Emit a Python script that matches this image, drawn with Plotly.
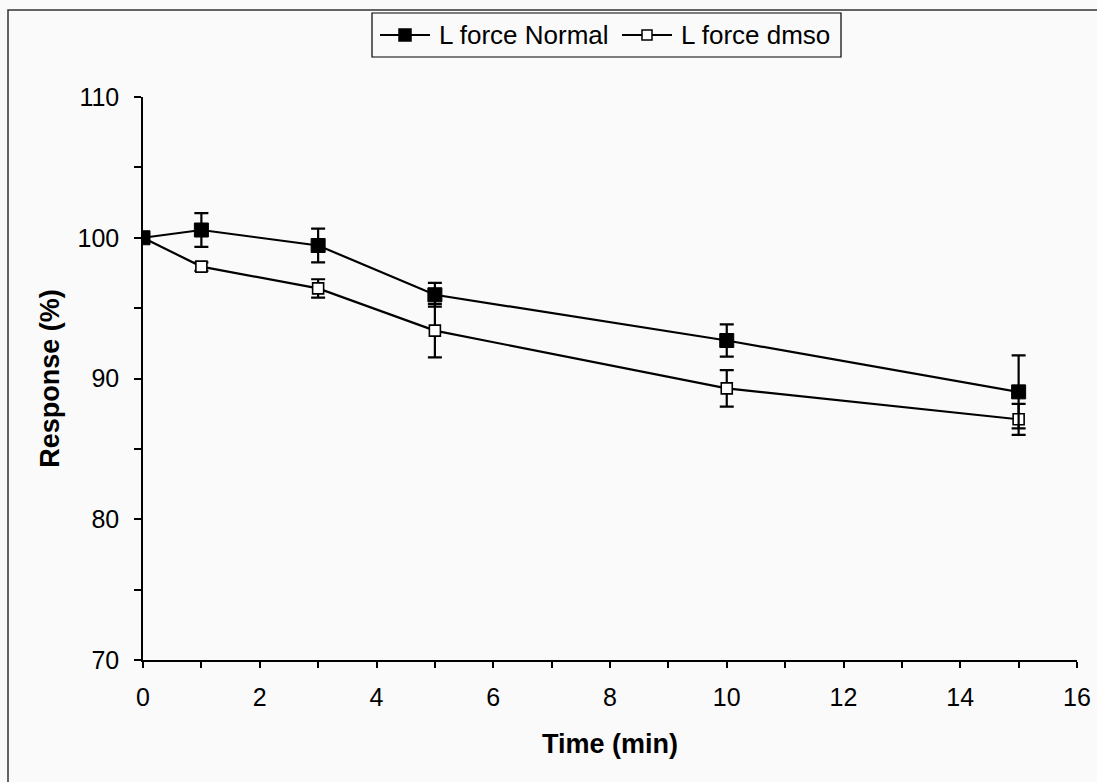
import plotly.graph_objects as go

# Time points (min)
time_min = [0, 1, 3, 5, 10, 15]

# Response (%) and SEM for each condition
normal_resp = [100.0, 100.55, 99.45, 95.95, 92.7, 89.05]
normal_err = [0.0, 1.2, 1.2, 0.85, 1.15, 2.6]

dmso_resp = [100.0, 97.95, 96.4, 93.4, 89.3, 87.1]
dmso_err = [0.0, 0.3, 0.65, 1.9, 1.3, 1.1]

series_names = ["L force Normal", "L force dmso"]

x_ticks = list(range(0, 17))
x_ticktext = [str(v) if v % 2 == 0 else "" for v in x_ticks]
y_ticks = list(range(70, 111, 5))
y_ticktext = [str(v) if v % 10 == 0 else "" for v in y_ticks]

font_family = "Liberation Sans, Arial, sans-serif"
bg = "#fafafa"
tick_size = 25

W, H = 1097, 782
M_L, M_R, M_T, M_B = 143, 20, 97, 122
PLOT_W = W - M_L - M_R
PLOT_H = H - M_T - M_B


def px_x(p):
    """Pixel column -> paper x."""
    return (p - M_L) / PLOT_W


def px_y(p):
    """Pixel row (from top) -> paper y."""
    return (H - M_B - p) / PLOT_H


fig = go.Figure()

fig.add_trace(go.Scatter(
    x=time_min, y=dmso_resp, name=series_names[1],
    mode="lines+markers",
    line=dict(color="black", width=2.2),
    marker=dict(symbol="square", size=11, color="white",
                line=dict(color="black", width=1.6)),
    error_y=dict(type="data", array=dmso_err, visible=True,
                 color="black", thickness=2.2, width=7),
))

fig.add_trace(go.Scatter(
    x=time_min, y=normal_resp, name=series_names[0],
    mode="lines+markers",
    line=dict(color="black", width=2.2),
    marker=dict(symbol="square", size=14, color="black",
                line=dict(color="black", width=1)),
    error_y=dict(type="data", array=normal_err, visible=True,
                 color="black", thickness=2.2, width=7),
))

shapes = []
# Outer frame around the chart
shapes.append(dict(type="rect", xref="paper", yref="paper",
                   x0=px_x(8), x1=px_x(1200), y0=px_y(900), y1=px_y(10),
                   line=dict(color="#333333", width=1.5), layer="below"))

# Legend box with line + marker keys
shapes.append(dict(type="rect", xref="paper", yref="paper",
                   x0=px_x(372), x1=px_x(841), y0=px_y(57), y1=px_y(13),
                   line=dict(color="black", width=1.2), fillcolor=bg))
key_y = 35
keys = [
    dict(x0=380, x1=430, size=12, fill="black", text_x=437, label=series_names[0]),
    dict(x0=622, x1=672, size=10, fill="white", text_x=679, label=series_names[1]),
]
annotations = []
for k in keys:
    shapes.append(dict(type="line", xref="paper", yref="paper",
                       x0=px_x(k["x0"]), x1=px_x(k["x1"]),
                       y0=px_y(key_y), y1=px_y(key_y),
                       line=dict(color="black", width=2.2)))
    cx = (k["x0"] + k["x1"]) / 2
    s = k["size"] / 2
    shapes.append(dict(type="rect", xref="paper", yref="paper",
                       x0=px_x(cx - s), x1=px_x(cx + s),
                       y0=px_y(key_y + s), y1=px_y(key_y - s),
                       line=dict(color="black", width=1.5), fillcolor=k["fill"]))
    annotations.append(dict(xref="paper", yref="paper",
                            x=px_x(k["text_x"]), y=px_y(key_y),
                            xanchor="left", yanchor="middle",
                            text=k["label"], showarrow=False,
                            font=dict(size=26, family=font_family, color="black")))

fig.update_layout(
    width=W, height=H,
    margin=dict(l=M_L, r=M_R, t=M_T, b=M_B, autoexpand=False),
    paper_bgcolor=bg,
    plot_bgcolor=bg,
    font=dict(family=font_family, color="black", size=tick_size),
    showlegend=False,
    shapes=shapes,
    annotations=annotations,
    xaxis=dict(
        range=[0, 16], tickvals=x_ticks, ticktext=x_ticktext,
        ticks="outside", ticklen=6, tickwidth=1.5, tickcolor="black",
        showline=True, linecolor="black", linewidth=1.5,
        showgrid=False, zeroline=False,
        tickfont=dict(size=tick_size, family=font_family, color="black"),
        ticklabelstandoff=8,
        title=dict(text="<b>Time (min)</b>", font=dict(size=27), standoff=24),
    ),
    yaxis=dict(
        range=[70, 110], tickvals=y_ticks, ticktext=y_ticktext,
        ticks="outside", ticklen=7, tickwidth=1.5, tickcolor="black",
        showline=True, linecolor="black", linewidth=1.5,
        showgrid=False, zeroline=False,
        tickfont=dict(size=tick_size, family=font_family, color="black"),
        ticklabelstandoff=10,
        title=dict(text="<b>Response (%)</b>", font=dict(size=27), standoff=10),
    ),
)

fig.write_html("out.html")
